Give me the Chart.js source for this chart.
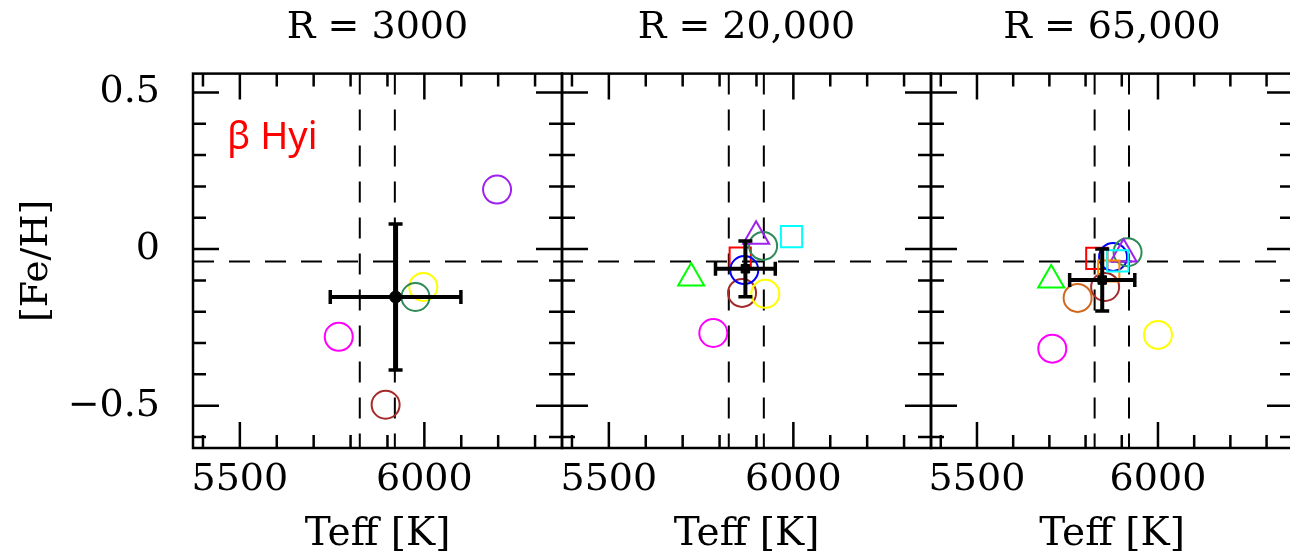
<!DOCTYPE html>
<html>
<head>
<meta charset="utf-8">
<script src="https://cdn.jsdelivr.net/npm/chart.js@4.4.1/dist/chart.umd.min.js"></script>
<style>
  html, body { margin: 0; padding: 0; overflow: hidden; background: #fff; }
  #wrap { position: relative; width: 1310px; height: 552px; }
  #wrap canvas { position: absolute; left: 0; top: 0; }
</style>
</head>
<body>
<div id="wrap">
  <canvas id="p0" width="1310" height="552"></canvas>
  <canvas id="p1" width="1310" height="552"></canvas>
  <canvas id="p2" width="1310" height="552"></canvas>
</div>
<script>
// three resolutions, one panel each
const panelTitles = ['R = 3000', 'R = 20,000', 'R = 65,000'];
const xTickLabels = [5500, 6000];
const yTickLabels = [-0.5, 0, 0.5];
const xRange = [5373, 6373];
const yRange = [-0.635, 0.56];

// dashed reference lines
const refTeff = [5825, 5920];
const refFeh = -0.04;

// each series: values in the R=3000, R=20000, R=65000 panels (null = absent)
const teffMagenta = [5768, 5783, 5708];
const fehMagenta = [-0.28, -0.268, -0.318];
const teffBrown = [5895, 5861, 5854];
const fehBrown = [-0.497, -0.14, -0.121];
const teffSeaGreen = [5976, 5918, 5916];
const fehSeaGreen = [-0.153, 0.01, -0.01];
const teffYellow = [5997, 5924, 6000];
const fehYellow = [-0.121, -0.143, -0.274];
const teffPurple = [6197, null, null];
const fehPurple = [0.19, null, null];
const teffPurpleTri = [null, 5899, 5905];
const fehPurpleTri = [null, 0.041, -0.016];
const teffGreenTri = [null, 5723, 5705];
const fehGreenTri = [null, -0.092, -0.099];
const teffRedSq = [null, 5856, 5831];
const fehRedSq = [null, -0.029, -0.03];
const teffBlue = [null, 5867, 5876];
const fehBlue = [null, -0.067, -0.025];
const teffOrangeSq = [null, null, 5864];
const fehOrangeSq = [null, null, -0.07];
const teffCyanSq = [null, 5995, 5889];
const fehCyanSq = [null, 0.04, -0.038];
const teffChocolate = [null, null, 5778];
const fehChocolate = [null, null, -0.156];

// mean value with error bars
const meanTeff = [5922, 5870, 5846];
const meanFeh = [-0.153, -0.063, -0.099];
const errTeff = [177, 81, 90];
const errFeh = [0.233, 0.089, 0.099];

const series = [
  { teff: teffMagenta, feh: fehMagenta, color: '#ff00ff', style: 'circle' },
  { teff: teffBrown, feh: fehBrown, color: '#a52a2a', style: 'circle' },
  { teff: teffChocolate, feh: fehChocolate, color: '#d2691e', style: 'circle' },
  { teff: teffYellow, feh: fehYellow, color: '#ffff00', style: 'circle' },
  { teff: teffPurple, feh: fehPurple, color: '#a020f0', style: 'circle' },
  { teff: teffGreenTri, feh: fehGreenTri, color: '#00ff00', style: 'triangle' },
  { teff: teffRedSq, feh: fehRedSq, color: '#ff0000', style: 'rect' },
  { teff: teffBlue, feh: fehBlue, color: '#0000ff', style: 'circle' },
  { teff: teffSeaGreen, feh: fehSeaGreen, color: '#2e8b57', style: 'circle' },
  { teff: teffPurpleTri, feh: fehPurpleTri, color: '#a020f0', style: 'triangle' },
  { teff: teffOrangeSq, feh: fehOrangeSq, color: '#ff8c00', style: 'rect' },
  { teff: teffCyanSq, feh: fehCyanSq, color: '#00ffff', style: 'rect' }
];

const serif = '"DejaVu Serif", serif';
const panelLeft = [0, 562, 931];
const panelRight = [748, 379, 10];

function minusLabel(v) {
  return v < 0 ? '\u2212' + Math.abs(v) : String(v);
}

const frameTicks = {
  id: 'frameTicks',
  afterDatasetsDraw(chart) {
    const { ctx, chartArea: a, scales: { x, y } } = chart;
    ctx.save();
    ctx.strokeStyle = '#000';
    ctx.lineWidth = 2.5;
    ctx.strokeRect(a.left, a.top, a.right - a.left, a.bottom - a.top);
    ctx.beginPath();
    for (let t = 5400; t <= 6300; t += 100) {
      const px = x.getPixelForValue(t);
      const len = xTickLabels.includes(t) ? 26 : 13;
      ctx.moveTo(px, a.bottom); ctx.lineTo(px, a.bottom - len);
      ctx.moveTo(px, a.top); ctx.lineTo(px, a.top + len);
    }
    for (let i = -6; i <= 5; i++) {
      const py = y.getPixelForValue(i / 10);
      const len = i % 5 === 0 ? 26 : 13;
      ctx.moveTo(a.left, py); ctx.lineTo(a.left + len, py);
      ctx.moveTo(a.right, py); ctx.lineTo(a.right - len, py);
    }
    ctx.stroke();
    if (chart.options.starLabel) {
      ctx.fillStyle = '#ff0000';
      ctx.font = '38px "Noto Sans", sans-serif';
      ctx.textBaseline = 'alphabetic';
      ctx.fillText(chart.options.starLabel, a.left + 34, a.top + 75);
    }
    ctx.restore();
  }
};

function makePanel(i) {
  const datasets = [];

  // mean with error bars on top
  datasets.push({
    data: [{ x: meanTeff[i], y: meanFeh[i] }],
    pointStyle: i === 0 ? 'circle' : 'rect',
    pointRadius: 6,
    pointBackgroundColor: '#000',
    pointBorderColor: '#000',
    pointBorderWidth: 1
  });
  datasets.push({
    data: [{ x: meanTeff[i] - errTeff[i], y: meanFeh[i] }, { x: meanTeff[i] + errTeff[i], y: meanFeh[i] }],
    showLine: true,
    borderColor: '#000',
    borderWidth: 4,
    pointStyle: 'line',
    rotation: 90,
    pointRadius: 7,
    pointBorderColor: '#000',
    pointBorderWidth: 3.5
  });
  datasets.push({
    data: [{ x: meanTeff[i], y: meanFeh[i] - errFeh[i] }, { x: meanTeff[i], y: meanFeh[i] + errFeh[i] }],
    showLine: true,
    borderColor: '#000',
    borderWidth: i === 0 ? 5 : 4,
    pointStyle: 'line',
    rotation: 0,
    pointRadius: 7,
    pointBorderColor: '#000',
    pointBorderWidth: 3.5
  });

  // markers, last in list ends up on top
  series.slice().reverse().forEach(s => {
    if (s.teff[i] == null) return;
    datasets.push({
      data: [{ x: s.teff[i], y: s.feh[i] }],
      pointStyle: s.style,
      pointRadius: s.style === 'circle' ? 14 : 15,
      pointBorderColor: s.color,
      pointBackgroundColor: 'transparent',
      pointBorderWidth: 2
    });
  });

  // dashed reference lines
  const dashed = {
    showLine: true,
    borderColor: '#000',
    borderWidth: 2,
    borderDash: [21, 15],
    pointRadius: 0
  };
  refTeff.forEach(t => {
    datasets.push(Object.assign({}, dashed, { data: [{ x: t, y: yRange[1] }, { x: t, y: yRange[0] }] }));
  });
  datasets.push(Object.assign({}, dashed, { data: [{ x: xRange[0], y: refFeh }, { x: xRange[1], y: refFeh }] }));

  return new Chart(document.getElementById('p' + i), {
    type: 'scatter',
    data: { datasets },
    plugins: [frameTicks],
    options: {
      responsive: false,
      animation: false,
      events: [],
      devicePixelRatio: 1,
      starLabel: i === 0 ? '\u03b2 Hyi' : null,
      layout: { padding: { left: panelLeft[i], right: panelRight[i], top: 0, bottom: 0 } },
      plugins: {
        legend: { display: false },
        tooltip: { enabled: false },
        title: {
          display: true,
          text: panelTitles[i],
          fullSize: false,
          color: '#000',
          font: { family: serif, size: 38, weight: 'normal', lineHeight: 1.2 },
          padding: { top: 5, bottom: 23 }
        }
      },
      scales: {
        x: {
          type: 'linear',
          min: xRange[0],
          max: xRange[1],
          grid: { display: false },
          border: { display: false },
          afterBuildTicks: s => { s.ticks = xTickLabels.map(v => ({ value: v })); },
          afterFit: s => { s.height = 104; s.paddingLeft = 0; s.paddingRight = 0; },
          ticks: {
            color: '#000',
            padding: 1,
            maxRotation: 0,
            autoSkip: false,
            font: { family: serif, size: 38, lineHeight: 1.2 },
            callback: v => String(v)
          },
          title: {
            display: true,
            text: 'Teff [K]',
            color: '#000',
            font: { family: serif, size: 39, lineHeight: 0.9 },
            padding: { top: 0, bottom: 0 }
          }
        },
        y: {
          type: 'linear',
          display: i === 0,
          min: yRange[0],
          max: yRange[1],
          grid: { display: false },
          border: { display: false },
          afterBuildTicks: s => { s.ticks = yTickLabels.map(v => ({ value: v })); },
          afterFit: s => {
            if (i === 0) s.width = 193;
            s.paddingTop = 0;
            s.paddingBottom = 0;
          },
          ticks: {
            color: '#000',
            padding: 25,
            autoSkip: false,
            font: { family: serif, size: 38, lineHeight: 1.2 },
            callback: v => minusLabel(v)
          },
          title: {
            display: true,
            text: '[Fe/H]',
            color: '#000',
            font: { family: serif, size: 38, lineHeight: 1.2 },
            padding: { top: 14, bottom: 0 }
          }
        }
      }
    }
  });
}

[0, 1, 2].forEach(makePanel);
</script>
</body>
</html>
